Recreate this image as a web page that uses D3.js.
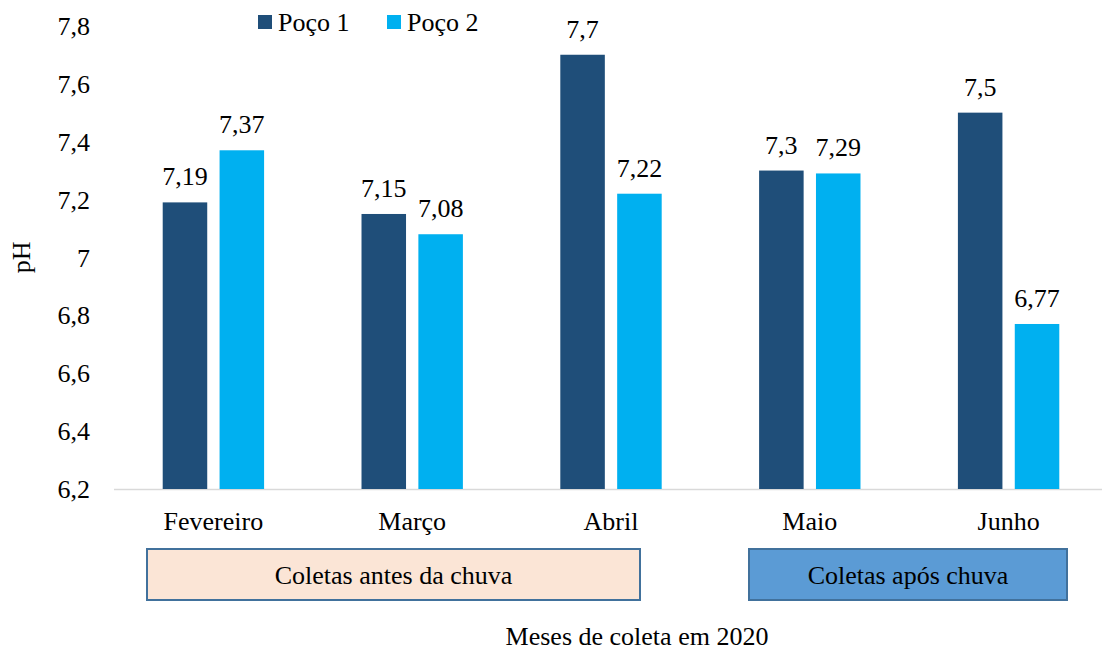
<!DOCTYPE html>
<html>
<head>
<meta charset="utf-8">
<script src="https://cdn.jsdelivr.net/npm/d3@7"></script>
<style>
  body { margin: 0; background: #fff; }
  text { font-family: "Liberation Serif", "Times New Roman", serif; fill: #000; }
</style>
</head>
<body>
<div id="vis"></div>
<script>
// data
const months = ['Fevereiro', 'Março', 'Abril', 'Maio', 'Junho']
const series = ['Poço 1', 'Poço 2']
const poco1 = [7.19, 7.15, 7.7, 7.3, 7.5]
const poco2 = [7.37, 7.08, 7.22, 7.29, 6.77]
const yTicks = [6.2, 6.4, 6.6, 6.8, 7, 7.2, 7.4, 7.6, 7.8]
const periods = [
  { label: 'Coletas antes da chuva', from: 'Fevereiro', to: 'Abril' },
  { label: 'Coletas após chuva', from: 'Maio', to: 'Junho' }
]

const colors = ['#1f4e79', '#00b0f0']
const W = 1102, H = 650
const fs = '26px'
const fmt = v => String(+v.toFixed(2)).replace('.', ',')

const svg = d3.select('#vis').append('svg')
  .attr('width', W).attr('height', H)

const x0 = d3.scaleBand().domain(months).range([114, 1108])
  .paddingInner(0.49).paddingOuter(0.245)
const x1 = d3.scaleBand().domain(series).range([0, x0.bandwidth()]).paddingInner(0.217)
const y = d3.scaleLinear().domain([6.2, 7.8]).range([489, 25.8])

const rows = months.map((m, i) => ({ month: m, values: [poco1[i], poco2[i]] }))

// baseline
svg.append('line')
  .attr('x1', 114).attr('x2', 1108)
  .attr('y1', y(6.2) + 0.5).attr('y2', y(6.2) + 0.5)
  .attr('stroke', '#d9d9d9').attr('stroke-width', 1.5)

// y ticks
svg.selectAll('.ytick').data(yTicks).enter().append('text')
  .attr('class', 'ytick')
  .attr('x', 90).attr('y', d => y(d))
  .attr('dy', '0.35em')
  .attr('text-anchor', 'end')
  .style('font-size', fs)
  .text(fmt)

// bars
const groups = svg.selectAll('.grp').data(rows).enter().append('g')
  .attr('class', 'grp')
  .attr('transform', d => `translate(${x0(d.month)},0)`)

groups.selectAll('rect').data(d => d.values.map((v, i) => ({ s: series[i], v, i }))).enter()
  .append('rect')
  .attr('x', d => x1(d.s))
  .attr('width', x1.bandwidth())
  .attr('y', d => y(d.v))
  .attr('height', d => y(6.2) - y(d.v))
  .attr('fill', d => colors[d.i])

groups.selectAll('.lbl').data(d => d.values.map((v, i) => ({ s: series[i], v, i }))).enter()
  .append('text')
  .attr('class', 'lbl')
  .attr('x', d => x1(d.s) + x1.bandwidth() / 2)
  .attr('y', d => y(d.v) - 17)
  .attr('text-anchor', 'middle')
  .style('font-size', fs)
  .text(d => fmt(d.v))

// month labels
svg.selectAll('.xlab').data(months).enter().append('text')
  .attr('class', 'xlab')
  .attr('x', d => x0(d) + x0.bandwidth() / 2)
  .attr('y', 530)
  .attr('text-anchor', 'middle')
  .style('font-size', fs)
  .text(d => d)

// period boxes
const boxFill = ['#fbe5d6', '#5b9bd5']
const boxX = [147, 749], boxW = [493, 318]
periods.forEach((p, i) => {
  svg.append('rect')
    .attr('x', boxX[i]).attr('y', 549)
    .attr('width', boxW[i]).attr('height', 51)
    .attr('fill', boxFill[i])
    .attr('stroke', '#41719c').attr('stroke-width', 2)
  svg.append('text')
    .attr('x', boxX[i] + boxW[i] / 2).attr('y', 575)
    .attr('dy', '0.35em')
    .attr('text-anchor', 'middle')
    .style('font-size', fs)
    .text(p.label)
})

// axis titles
svg.append('text')
  .attr('transform', `translate(30,${(y(6.2) + y(7.8)) / 2}) rotate(-90)`)
  .attr('text-anchor', 'middle')
  .style('font-size', fs)
  .text('pH')

svg.append('text')
  .attr('x', 637).attr('y', 645)
  .attr('text-anchor', 'middle')
  .style('font-size', fs)
  .text('Meses de coleta em 2020')

// legend
const legX = [258, 387]
series.forEach((s, i) => {
  svg.append('rect')
    .attr('x', legX[i]).attr('y', 15)
    .attr('width', 14).attr('height', 14)
    .attr('fill', colors[i])
  svg.append('text')
    .attr('x', legX[i] + 20).attr('y', 22)
    .attr('dy', '0.35em')
    .style('font-size', fs)
    .text(s)
})
</script>
</body>
</html>
